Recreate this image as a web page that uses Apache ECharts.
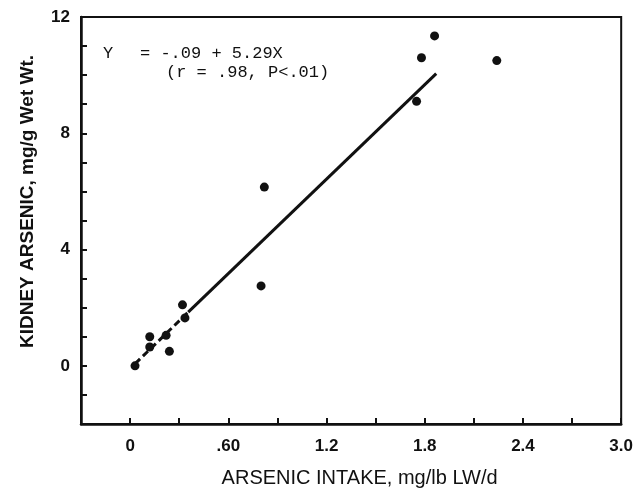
<!DOCTYPE html>
<html>
<head>
<meta charset="utf-8">
<script src="https://cdn.jsdelivr.net/npm/echarts@6/dist/echarts.min.js"></script>
<style>
  html, body { margin: 0; padding: 0; background: #fff; }
  #container { width: 636px; height: 493px; }
</style>
</head>
<body>
<div id="container"></div>
<script>
// data
var kidneyPoints = [
    [0.03, 0.0],
    [0.12, 1.0],
    [0.12, 0.65],
    [0.22, 1.05],
    [0.24, 0.5],
    [0.32, 2.1],
    [0.335, 1.65],
    [0.80, 2.75],
    [0.82, 6.15],
    [1.75, 9.1],
    [1.78, 10.6],
    [1.86, 11.35],
    [2.24, 10.5]
];
// regression line, dashed near origin then solid
var fitDashed = [[0.03, 0.07], [0.355, 1.85]];
var fitSolid = [[0.355, 1.85], [1.87, 10.05]];

var xTickValues = [0, 0.6, 1.2, 1.8, 2.4, 3.0];
var xTickLabels = ['0', '.60', '1.2', '1.8', '2.4', '3.0'];
var yTickValues = [0, 4, 8, 12];
var yTickLabels = ['0', '4', '8', '12'];

var eqLine1 = ['Y', '= -.09 + 5.29X'];
var eqLine2 = '(r = .98, P<.01)';

function pickLabel(values, labels) {
    return function (v) {
        for (var i = 0; i < values.length; i++) {
            if (Math.abs(values[i] - v) < 1e-6) return labels[i];
        }
        return '';
    };
}

var dom = document.getElementById('container');
var myChart = echarts.init(dom, null, { renderer: 'canvas' });

var ink = '#111';
var labelFont = {
    color: ink,
    fontFamily: 'Liberation Sans, Arial, sans-serif',
    fontWeight: 'bold',
    fontSize: 17
};

var option = {
    backgroundColor: '#fff',
    animation: false,
    grid: {
        left: 81, top: 17, right: 14, bottom: 68,
        show: true,
        borderColor: ink,
        borderWidth: 2
    },
    xAxis: {
        type: 'value',
        min: -0.3,
        max: 3.0,
        interval: 0.3,
        name: 'ARSENIC INTAKE, mg/lb LW/d',
        nameLocation: 'middle',
        nameGap: 44,
        nameTextStyle: {
            color: ink,
            fontFamily: 'Liberation Sans, Arial, sans-serif',
            fontSize: 20,
            padding: [0, 0, 0, 17]
        },
        axisLine: { onZero: false, lineStyle: { color: ink, width: 2.5 } },
        axisTick: { inside: true, length: 6, lineStyle: { color: ink, width: 2 } },
        axisLabel: Object.assign({
            margin: 14,
            formatter: pickLabel(xTickValues, xTickLabels)
        }, labelFont),
        splitLine: { show: false }
    },
    yAxis: {
        type: 'value',
        min: -2,
        max: 12,
        interval: 1,
        name: 'KIDNEY ARSENIC, mg/g Wet Wt.',
        nameLocation: 'middle',
        nameGap: 44,
        nameTextStyle: {
            color: ink,
            fontFamily: 'Liberation Sans, Arial, sans-serif',
            fontWeight: 'bold',
            fontSize: 19,
            padding: [0, 0, 0, 38]
        },
        axisLine: { onZero: false, lineStyle: { color: ink, width: 2.5 } },
        axisTick: { inside: true, length: 6, lineStyle: { color: ink, width: 2 } },
        axisLabel: Object.assign({
            margin: 11,
            formatter: pickLabel(yTickValues, yTickLabels)
        }, labelFont),
        splitLine: { show: false }
    },
    graphic: [
        {
            type: 'text', left: 103, top: 45,
            style: { text: eqLine1[0], fill: ink, font: '17px "Liberation Mono", monospace' }
        },
        {
            type: 'text', left: 140, top: 45,
            style: { text: eqLine1[1], fill: ink, font: '17px "Liberation Mono", monospace' }
        },
        {
            type: 'text', left: 166, top: 64,
            style: { text: eqLine2, fill: ink, font: '17px "Liberation Mono", monospace' }
        }
    ],
    series: [
        {
            type: 'line',
            data: fitDashed,
            symbol: 'none',
            lineStyle: { color: ink, width: 3, type: [7, 4] },
            z: 2
        },
        {
            type: 'line',
            data: fitSolid,
            symbol: 'none',
            lineStyle: { color: ink, width: 3 },
            z: 2
        },
        {
            type: 'scatter',
            data: kidneyPoints,
            symbol: 'circle',
            symbolSize: 9,
            itemStyle: { color: ink, opacity: 1 },
            z: 3
        }
    ]
};

myChart.setOption(option);
window.addEventListener('resize', myChart.resize);
</script>
</body>
</html>
